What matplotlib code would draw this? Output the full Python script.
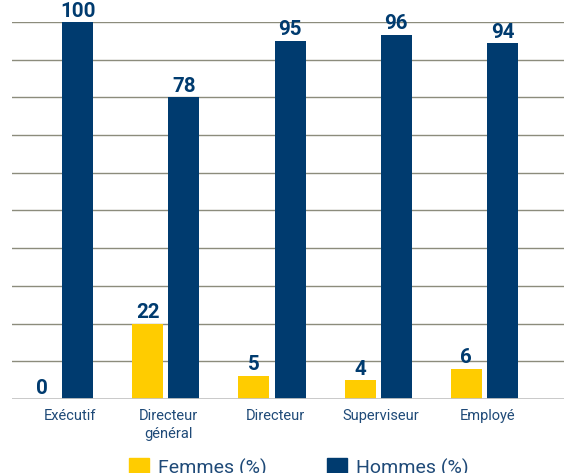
import matplotlib
matplotlib.use("Agg")
import matplotlib.pyplot as plt
import numpy as np
from matplotlib.patches import Patch

categories = ["Exécutif", "Directeur\ngénéral", "Directeur", "Superviseur", "Employé"]
# values printed on the bars
femmes_labels = [0, 22, 5, 4, 6]
hommes_labels = [100, 78, 95, 96, 94]
# bar heights as drawn in the picture
femmes_heights = [0, 20, 6.2, 5, 8]
hommes_heights = [100, 80, 95, 96.6, 94.3]
series_names = ["Femmes (%)", "Hommes (%)"]

NAVY = "#003B6F"
YELLOW = "#FFCC00"
TEXT = "#1F4A78"

plt.rcParams['font.family'] = ['Roboto', 'DejaVu Sans']

fig = plt.figure(figsize=(5.64, 4.73), dpi=100)
W, H = 564, 473
ax = fig.add_axes([12 / W, 74 / H, (564 - 12) / W, (399 - 22) / H])

x = np.arange(len(categories))
bw = 0.292
off = 0.17
ax.bar(x - off, femmes_heights, bw, color=YELLOW, zorder=3)
ax.bar(x + off, hommes_heights, bw, color=NAVY, zorder=3)

for xs, hs, ls in ((x - off, femmes_heights, femmes_labels),
                   (x + off, hommes_heights, hommes_labels)):
    for xi, h, lab in zip(xs, hs, ls):
        ax.annotate(str(lab), (xi, h), xytext=(0, 1.0), textcoords="offset points",
                    ha="center", va="bottom", fontsize=14.8, fontweight="bold",
                    color=NAVY, annotation_clip=False)

ax.set_ylim(0, 100)
ax.set_xlim(-0.448, 4.75)
for g in range(10, 101, 10):
    ax.axhline(g, color="#8C8C7C", lw=1.0, zorder=1)
ax.axhline(0, color="#C4C4C4", lw=2.0, zorder=4)

for s in ax.spines.values():
    s.set_visible(False)
ax.set_yticks([])
tick_shift = [0.094, 0.028, 0.028, 0.028, 0.028]
ax.set_xticks(x + np.array(tick_shift))
ax.set_xticklabels(categories, fontsize=10.5, color=TEXT, linespacing=1.4)
ax.tick_params(axis="x", length=0, pad=7)

handles = [Patch(color=YELLOW), Patch(color=NAVY)]
fig.legend(handles, series_names, loc="upper left", bbox_to_anchor=(121 / W, 1 - 450 / H),
           ncol=2, frameon=False, fontsize=14, handlelength=1.05, handleheight=1.05,
           handletextpad=0.45, columnspacing=3.1, labelcolor=TEXT, borderaxespad=0)

fig.savefig("out.png", dpi=100)
